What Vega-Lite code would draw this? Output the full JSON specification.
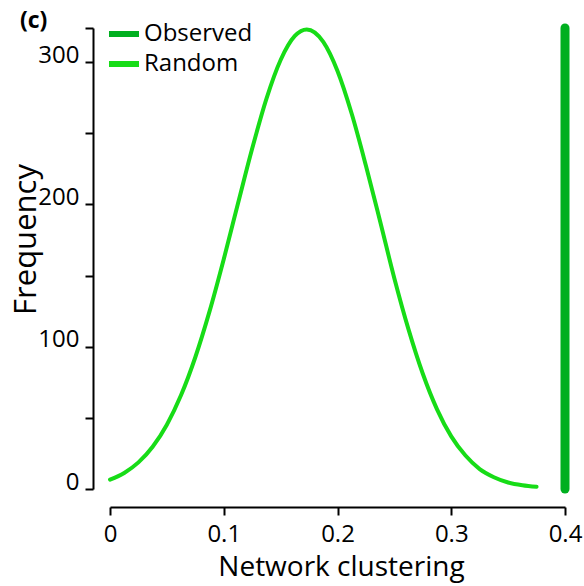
{
  "$schema": "https://vega.github.io/schema/vega-lite/v6.json",
  "autosize": "none",
  "width": 455,
  "height": 461,
  "padding": {"left": 110, "top": 28, "right": 19, "bottom": 97},
  "background": "white",
  "config": {
    "view": {"stroke": null},
    "font": "Open Sans",
    "axis": {
      "grid": false,
      "domainColor": "black",
      "domainWidth": 2,
      "tickColor": "black",
      "tickWidth": 2,
      "tickSize": 8,
      "labelColor": "black",
      "titleColor": "black",
      "labelFontSize": 24,
      "titleFontWeight": "normal",
      "labelFont": "Open Sans",
      "titleFont": "Open Sans"
    }
  },
  "title": {
    "text": "(c)",
    "anchor": "start",
    "frame": "group",
    "orient": "top",
    "fontSize": 23,
    "fontWeight": "bold",
    "font": "Open Sans",
    "color": "black",
    "baseline": "alphabetic",
    "offset": 0,
    "dx": -90,
    "dy": 35
  },
  "layer": [
    {
      "data": {
        "values": [
          {"series": "Random", "clustering": 0.0, "frequency": 6.6},
          {"series": "Random", "clustering": 0.0125, "frequency": 11.3},
          {"series": "Random", "clustering": 0.025, "frequency": 18.7},
          {"series": "Random", "clustering": 0.0375, "frequency": 29.7},
          {"series": "Random", "clustering": 0.05, "frequency": 45.2},
          {"series": "Random", "clustering": 0.0625, "frequency": 66.0},
          {"series": "Random", "clustering": 0.075, "frequency": 92.6},
          {"series": "Random", "clustering": 0.0875, "frequency": 124.8},
          {"series": "Random", "clustering": 0.1, "frequency": 161.5},
          {"series": "Random", "clustering": 0.1125, "frequency": 200.6},
          {"series": "Random", "clustering": 0.125, "frequency": 239.3},
          {"series": "Random", "clustering": 0.1375, "frequency": 274.2},
          {"series": "Random", "clustering": 0.15, "frequency": 301.5},
          {"series": "Random", "clustering": 0.1625, "frequency": 318.4},
          {"series": "Random", "clustering": 0.173, "frequency": 323.0},
          {"series": "Random", "clustering": 0.1875, "frequency": 314.3},
          {"series": "Random", "clustering": 0.2, "frequency": 293.8},
          {"series": "Random", "clustering": 0.2125, "frequency": 263.7},
          {"series": "Random", "clustering": 0.225, "frequency": 227.2},
          {"series": "Random", "clustering": 0.2375, "frequency": 188.0},
          {"series": "Random", "clustering": 0.25, "frequency": 148.0},
          {"series": "Random", "clustering": 0.2625, "frequency": 112.0},
          {"series": "Random", "clustering": 0.275, "frequency": 81.0},
          {"series": "Random", "clustering": 0.2875, "frequency": 56.0},
          {"series": "Random", "clustering": 0.3, "frequency": 37.0},
          {"series": "Random", "clustering": 0.3125, "frequency": 23.5},
          {"series": "Random", "clustering": 0.325, "frequency": 14.0},
          {"series": "Random", "clustering": 0.3375, "frequency": 8.3},
          {"series": "Random", "clustering": 0.35, "frequency": 4.6},
          {"series": "Random", "clustering": 0.3625, "frequency": 2.6},
          {"series": "Random", "clustering": 0.375, "frequency": 1.5}
        ]
      },
      "mark": {"type": "line", "strokeWidth": 4, "interpolate": "monotone", "strokeCap": "round"},
      "encoding": {
        "x": {
          "field": "clustering",
          "type": "quantitative",
          "scale": {"domain": [0, 0.4], "nice": false, "zero": false},
          "axis": {
            "title": "Network clustering",
            "titleFontSize": 28,
            "offset": 18,
            "values": [0, 0.1, 0.2, 0.3, 0.4],
            "labelExpr": "datum.value == 0 ? '0' : format(datum.value, '.1f')",
            "labelPadding": 7,
            "labelFlush": false,
            "titleBaseline": "alphabetic",
            "titleX": 231,
            "titleY": 68,
            "titleAnchor": "middle"
          }
        },
        "y": {
          "field": "frequency",
          "type": "quantitative",
          "scale": {"domain": [0, 324], "nice": false},
          "axis": {
            "title": "Frequency",
            "titleFontSize": 31,
            "offset": 17,
            "values": [0, 50, 100, 150, 200, 250, 300, 324],
            "labelExpr": "datum.value % 100 == 0 ? format(datum.value, 'd') : ''",
            "labelPadding": 6,
            "labelBaseline": "alphabetic",
            "labelFlush": false,
            "titleBaseline": "alphabetic",
            "titleX": -58,
            "titleY": 211,
            "titleAngle": -90,
            "titleAnchor": "middle"
          }
        },
        "color": {
          "field": "series",
          "type": "nominal",
          "scale": {"domain": ["Observed", "Random"], "range": ["#00AF1F", "#17DC17"]},
          "legend": {
            "title": null,
            "orient": "none",
            "legendX": -4,
            "legendY": -12,
            "symbolType": "stroke",
            "symbolSize": 900,
            "symbolStrokeWidth": 6,
            "labelFontSize": 24,
            "labelFont": "Open Sans",
            "labelColor": "black",
            "labelOffset": 2,
            "rowPadding": -6,
            "padding": 0
          }
        }
      }
    },
    {
      "data": {
        "values": [
          {"series": "Observed", "clustering": 0.4, "low": 0, "high": 324}
        ]
      },
      "mark": {"type": "rule", "strokeWidth": 9, "strokeCap": "round"},
      "encoding": {
        "x": {"field": "clustering", "type": "quantitative"},
        "y": {"field": "low", "type": "quantitative"},
        "y2": {"field": "high"},
        "color": {"field": "series", "type": "nominal"}
      }
    }
  ]
}
